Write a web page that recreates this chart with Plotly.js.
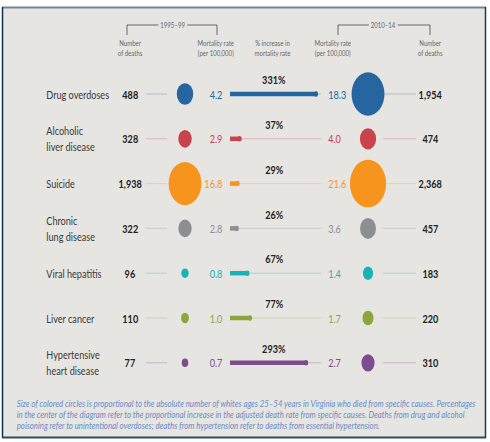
<!DOCTYPE html>
<html>
<head>
<meta charset="utf-8">
<script src="https://cdn.plot.ly/plotly-3.0.1.min.js"></script>
<style>
  html, body { margin: 0; padding: 0; background: #ffffff; overflow: hidden; }
  #wrap { width: 490px; height: 442px; overflow: hidden; }
  #chart { width: 645px; height: 442px; transform: scaleX(0.7597); transform-origin: 0 0; }
</style>
</head>
<body>
<div id="wrap"><div id="chart"></div></div>
<script>
// ---- data ----
const causes = ["Drug overdoses", "Alcoholic<br>liver disease", "Suicide", "Chronic<br>lung disease",
                "Viral hepatitis", "Liver cancer", "Hypertensive<br>heart disease"];
const deaths9599 = [488, 328, 1938, 322, 96, 110, 77];
const rate9599   = [4.2, 2.9, 16.8, 2.8, 0.8, 1.0, 0.7];
const pctIncrease = [331, 37, 29, 26, 67, 77, 293];
const rate1014   = [18.3, 4.0, 21.6, 3.6, 1.4, 1.7, 2.7];
const deaths1014 = [1954, 474, 2368, 457, 183, 220, 310];
const colors = ["#2765a0", "#c8434b", "#f7941e", "#8d8e92", "#17b3b5", "#8aa63c", "#7e4b8e"];
const footnoteLines = [
  "Size of colored circles is proportional to the absolute number of whites ages 25–54 years in Virginia who died from specific causes. Percentages",
  "in the center of the diagram refer to the proportional increase in the adjusted death rate from specific causes. Deaths from drug and alcohol",
  "poisoning refer to unintentional overdoses; deaths from hypertension refer to deaths from essential hypertension."
];

// ---- layout constants (reference pixel columns) ----
const H = 442;
const panel = "#e6e5e1";
const FONT = "Lato, 'Open Sans', sans-serif";
const colCountL = 130, colCircleL = 185, colRateL = 224, colPct = 274, colRateR = 327, colCircleR = 368, colCountR = 430;
const rowIdx = causes.map((_, i) => i);
const py = p => 1 - p / H;   // pixel -> paper y

const traces = [];
const shapes = [];
const ann = [];

function fmt(n) { return n.toLocaleString("en-US"); }

causes.forEach((c, i) => {
  const col = colors[i];
  // faint connector lines
  traces.push({x: [146, 167], y: [i, i], xaxis: "x", yaxis: "y", mode: "lines",
    line: {color: col, width: 1}, opacity: 0.35, hoverinfo: "skip", showlegend: false});
  traces.push({x: [230, 321], y: [i, i], xaxis: "x", yaxis: "y", mode: "lines",
    line: {color: col, width: 1}, opacity: 0.35, hoverinfo: "skip", showlegend: false});
  traces.push({x: [383, 416], y: [i, i], xaxis: "x", yaxis: "y", mode: "lines",
    line: {color: col, width: 1}, opacity: 0.35, hoverinfo: "skip", showlegend: false});
});

// circles (area proportional to deaths)
traces.push({x: causes.map(() => colCircleL), y: rowIdx, mode: "markers", xaxis: "x", yaxis: "y",
  marker: {color: colors, opacity: 1, size: deaths9599.map(d => Math.sqrt(d) * 0.98), line: {width: 0}},
  hoverinfo: "skip", showlegend: false});
traces.push({x: causes.map(() => colCircleR), y: rowIdx, mode: "markers", xaxis: "x", yaxis: "y",
  marker: {color: colors, opacity: 1, size: deaths1014.map(d => Math.sqrt(d) * 0.98), line: {width: 0}},
  hoverinfo: "skip", showlegend: false});

// percent increase bars on their own x axis
causes.forEach((c, i) => {
  const col = colors[i];
  traces.push({x: [0, pctIncrease[i]], y: [i, i], xaxis: "x2", yaxis: "y", mode: "lines",
    line: {color: col, width: 4.5}, hoverinfo: "skip", showlegend: false});
  traces.push({x: [pctIncrease[i]], y: [i], xaxis: "x2", yaxis: "y", mode: "markers",
    marker: {color: col, opacity: 1, size: 5.5, symbol: "circle"}, hoverinfo: "skip", showlegend: false});
});

// row texts
causes.forEach((c, i) => {
  ann.push({x: 45, y: i, xref: "x", yref: "y", text: c, xanchor: "left", yanchor: "middle", align: "left",
    showarrow: false, font: {family: FONT, size: 12, color: "#3a3a3a"}});
  ann.push({x: colCountL, y: i, xref: "x", yref: "y", text: "<b>" + fmt(deaths9599[i]) + "</b>", xanchor: "center",
    showarrow: false, font: {family: FONT, size: 12, color: "#222"}});
  ann.push({x: colRateL, y: i, xref: "x", yref: "y", text: rate9599[i].toFixed(1), xanchor: "right",
    showarrow: false, font: {family: FONT, size: 12, color: colors[i]}});
  ann.push({x: colPct, y: i - 0.32, xref: "x", yref: "y", text: "<b>" + pctIncrease[i] + "%</b>", xanchor: "center",
    showarrow: false, font: {family: FONT, size: 12, color: "#222"}});
  ann.push({x: colRateR, y: i, xref: "x", yref: "y", text: rate1014[i].toFixed(1), xanchor: "left",
    showarrow: false, font: {family: FONT, size: 12, color: colors[i]}});
  ann.push({x: colCountR, y: i, xref: "x", yref: "y", text: "<b>" + fmt(deaths1014[i]) + "</b>", xanchor: "center",
    showarrow: false, font: {family: FONT, size: 12, color: "#222"}});
});

// headers
const hdrFont = {family: FONT, size: 8, color: "#666"};
[[colCountL, "Number<br>of deaths"], [216, "Mortality rate<br>(per 100,000)"], [272, "% increase in<br>mortality rate"],
 [333, "Mortality rate<br>(per 100,000)"], [430, "Number<br>of deaths"]].forEach(([x, t]) => {
  ann.push({x: x, y: py(48), xref: "x", yref: "paper", text: t, showarrow: false, xanchor: "center", yanchor: "middle", font: hdrFont});
});
// brackets
[[127, 217, 173, "1995–99"], [338, 430, 383, "2010–14"]].forEach(([a, b, m, t]) => {
  shapes.push({type: "line", xref: "x", yref: "paper", x0: a, x1: b, y0: py(25), y1: py(25), line: {color: "#555", width: 1}});
  shapes.push({type: "line", xref: "x", yref: "paper", x0: a, x1: a, y0: py(25), y1: py(35), line: {color: "#555", width: 1}});
  shapes.push({type: "line", xref: "x", yref: "paper", x0: b, x1: b, y0: py(25), y1: py(35), line: {color: "#555", width: 1}});
  ann.push({x: m, y: py(25), xref: "x", yref: "paper", text: t, showarrow: false, xanchor: "center", yanchor: "middle",
    bgcolor: panel, borderpad: 2, font: hdrFont});
});

// footnote, one annotation per line
footnoteLines.forEach((t, k) => {
  ann.push({x: 15, y: py(403 + 11 * k), xref: "x", yref: "paper", xanchor: "left", yanchor: "middle", align: "left",
    showarrow: false, text: "<i>" + t + "</i>", font: {family: FONT, size: 10.3, color: "#6a8cc6"}});
});

// panel and frame
shapes.push({type: "rect", xref: "paper", yref: "paper", x0: 2 / 490, x1: 486 / 490, y0: py(438), y1: py(7),
  fillcolor: panel, line: {width: 0}, layer: "below"});
shapes.push({type: "line", xref: "paper", yref: "paper", x0: 2 / 490, x1: 486 / 490, y0: py(7.5), y1: py(7.5), line: {color: "#6f8699", width: 2}});
shapes.push({type: "line", xref: "paper", yref: "paper", x0: 2.5 / 490, x1: 2.5 / 490, y0: py(7), y1: py(438), line: {color: "#0f3352", width: 2}});
shapes.push({type: "line", xref: "paper", yref: "paper", x0: 485.5 / 490, x1: 485.5 / 490, y0: py(7), y1: py(438), line: {color: "#1b3d5c", width: 2}});
shapes.push({type: "line", xref: "paper", yref: "paper", x0: 2 / 490, x1: 486 / 490, y0: py(437.5), y1: py(437.5), line: {color: "#2a4a66", width: 2}});

const rowTop = 94, rowStep = 44.8;
const layout = {
  width: 645, height: H,
  margin: {l: 0, r: 0, t: 0, b: 0, pad: 0},
  paper_bgcolor: "#ffffff",
  plot_bgcolor: "rgba(0,0,0,0)",
  showlegend: false,
  xaxis: {range: [0, 490], domain: [0, 1], visible: false, fixedrange: true, anchor: "y"},
  xaxis2: {range: [0, 385], domain: [230 / 490, 330 / 490], visible: false, fixedrange: true, anchor: "y"},
  yaxis: {range: [(H - rowTop) / rowStep, -rowTop / rowStep], domain: [0, 1], visible: false, fixedrange: true, anchor: "x"},
  shapes: shapes,
  annotations: ann
};

Plotly.newPlot("chart", traces, layout, {displayModeBar: false, staticPlot: true});
</script>
</body>
</html>
